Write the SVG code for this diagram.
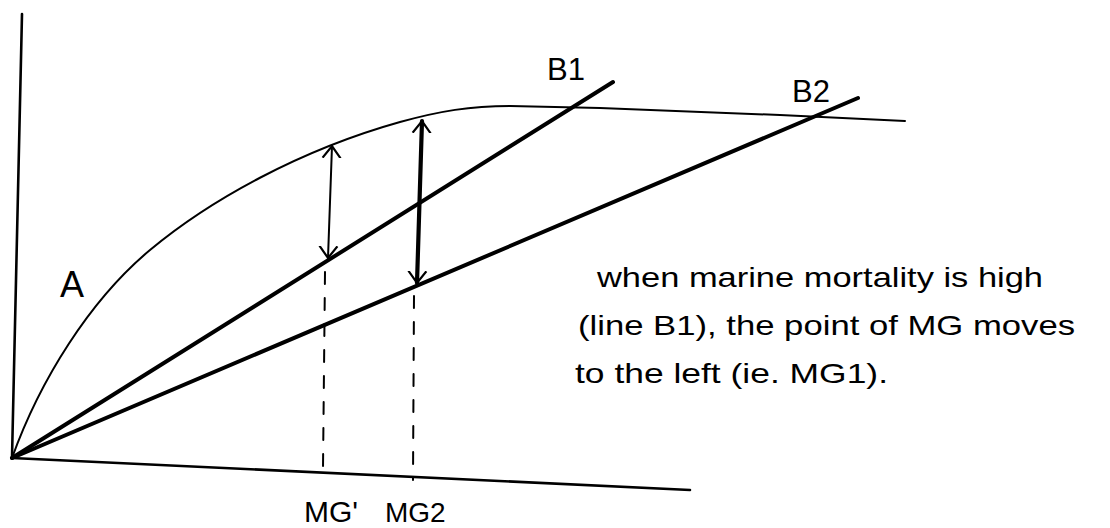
<svg xmlns="http://www.w3.org/2000/svg" width="1110" height="528" viewBox="0 0 1110 528">
<defs>
<marker id="vhead" viewBox="-12 -12 24 24" markerWidth="24" markerHeight="24" refX="0" refY="0" orient="auto-start-reverse" markerUnits="userSpaceOnUse">
<path d="M-12,-9 L0,0 L-12,9" fill="none" stroke="#000" stroke-width="2.2"/>
</marker>
<style>
.ln{fill:none;stroke:#000;stroke-linecap:round;stroke-linejoin:round}
.lbl{font-family:"Liberation Sans",Arial,sans-serif;fill:#000}
</style>
</defs>
<rect width="1110" height="528" fill="#fff"/>
<g id="axes">
<path class="ln" d="M22,14 L12,458 L690,490" stroke-width="2.6"/>
</g>
<g id="curveA">
<path class="ln" d="M12,458 C40,380 90,300 150,250 S300,150 400,122 C440,111 470,106 510,106 L600,108 L780,115 L905,121" stroke-width="2"/>
<text class="lbl" x="60" y="297" font-size="36">A</text>
</g>
<g id="lineB1">
<path class="ln" d="M12,458 L613,82" stroke-width="4"/>
<text class="lbl" x="547" y="80" font-size="31">B1</text>
</g>
<g id="lineB2">
<path class="ln" d="M12,458 L858,98" stroke-width="4"/>
<text class="lbl" x="792" y="102" font-size="31">B2</text>
</g>
<g id="connectors">
<path class="ln" d="M328,258 L332,146" stroke-width="2" marker-start="url(#vhead)" marker-end="url(#vhead)"/>
<path class="ln" d="M417,283 L422,121" stroke-width="4.2" marker-start="url(#vhead)" marker-end="url(#vhead)"/>
<path class="ln" d="M325,272 L323,468" stroke-width="2" stroke-dasharray="12,14"/>
<path class="ln" d="M414,296 L413,480" stroke-width="2" stroke-dasharray="12,14"/>
</g>
<g id="markers">
<text class="lbl" x="304" y="522" font-size="30">MG'</text>
<text class="lbl" x="385" y="522" font-size="28">MG2</text>
</g>
<g id="note">
<text class="lbl" x="597" y="287" font-size="28" textLength="446" lengthAdjust="spacingAndGlyphs">when marine mortality is high</text>
<text class="lbl" x="578" y="335" font-size="28" textLength="497" lengthAdjust="spacingAndGlyphs">(line B1), the point of MG moves</text>
<text class="lbl" x="575" y="383" font-size="28" textLength="313" lengthAdjust="spacingAndGlyphs">to the left (ie. MG1).</text>
</g>
</svg>
